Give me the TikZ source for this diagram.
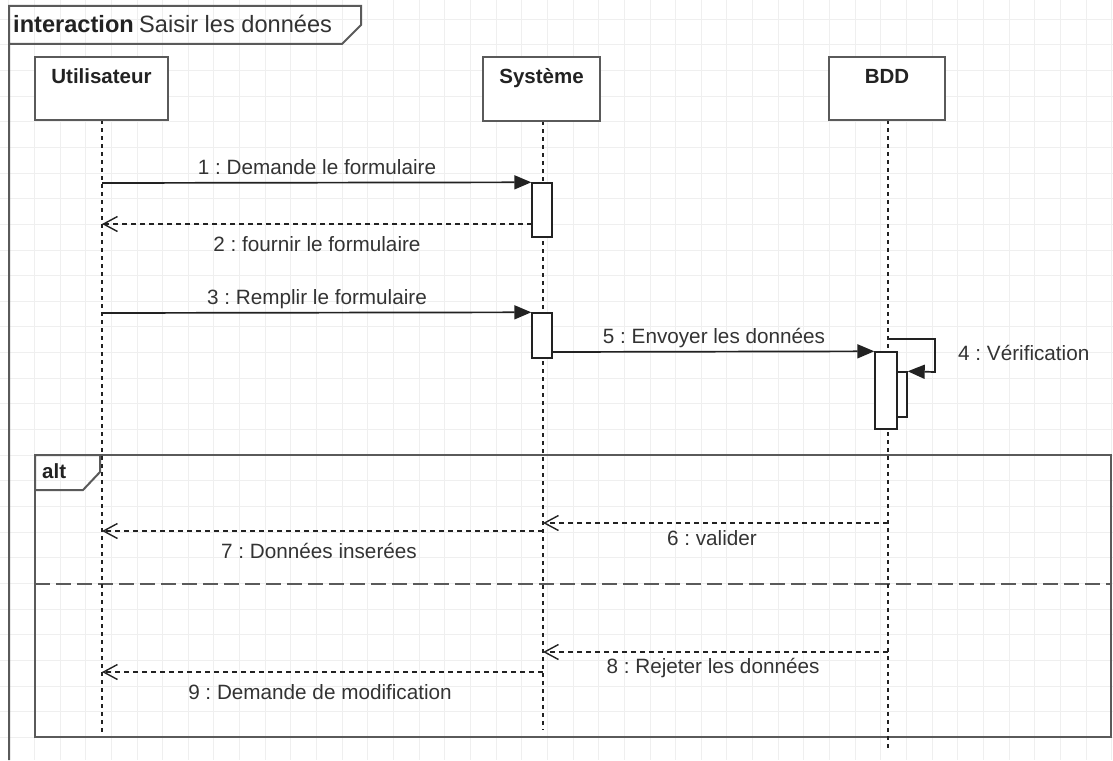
\documentclass[tikz,border=0pt]{standalone}
\usepackage{fontspec}
\setmainfont{Liberation Sans}
\usetikzlibrary{arrows.meta}
\definecolor{gridc}{HTML}{EFEFEF}
\definecolor{linec}{HTML}{222222}
\definecolor{framec}{HTML}{5A5A5A}
\definecolor{textc}{HTML}{333333}
\frenchspacing
\begin{document}
\begin{tikzpicture}[x=1pt,y=-1pt,
  lbl/.style={font=\fontsize{20.7}{24}\selectfont, text=textc, inner sep=0pt, anchor=base},
  head/.style={font=\bfseries\fontsize{20.5}{24}\selectfont, text=linec, inner sep=0pt, anchor=base},
  actor/.style={draw=framec, line width=1.6pt, fill=white, inner sep=0pt},
  act/.style={draw=linec, line width=1.4pt, fill=white, inner sep=0pt, minimum width=20pt},
  life/.style={draw=linec, line width=1.6pt, dash pattern=on 4pt off 4pt},
  msg/.style={draw=linec, line width=1.7pt, -{Triangle[length=17pt,width=14pt]}},
  ret/.style={draw=linec, line width=1.4pt, dash pattern=on 5pt off 4pt, -{Straight Barb[length=14pt,width=15pt,line width=1.4pt]}},
  frame/.style={draw=framec, line width=2pt},
  sep/.style={draw=framec, line width=2pt, dash pattern=on 15pt off 6pt}]
\useasboundingbox (0,0) rectangle (1113,760);
% grid
\foreach \i in {0,...,43} \draw[gridc, line width=0.8pt] ({8.65+\i*25.65},0) -- ++(0,760);
\foreach \j in {0,...,28} \draw[gridc, line width=0.8pt] (0,{19.05+\j*25.65}) -- ++(1113,0);
% interaction frame
\draw[frame] (9,760) -- (9,6) -- (361,6) -- (361,25) -- (342,44) -- (9,44);
\node[font=\bfseries\fontsize{23.6}{28}\selectfont, text=linec, inner sep=0pt, anchor=base west] (tkw) at (13,33) {interaction};
\node[font=\fontsize{23.6}{28}\selectfont, text=textc, inner sep=0pt, anchor=base west] (ttl) at (139,33) {Saisir les données};
% alt frame
\draw[frame] (35,455) rectangle (1111,737);
\draw[frame] (35,490) -- (35,455) -- (100,455) -- (100,472) -- (83,490) -- cycle;
\node[head, anchor=base west] (alt) at (42,478) {alt};
\draw[sep] (35,584) -- (1111,584);
% lifelines
\coordinate (uend) at (102,732);
\coordinate (send) at (543,730);
\coordinate (bend) at (888,748);
\draw[life] (102,120) -- (uend);
\draw[life] (543,121) -- (send);
\draw[life] (888,120) -- (bend);
% actors
\node[actor, minimum width=133pt, minimum height=63pt] (user) at (101.5,88.5) {};
\node[head] (userl) at (101.5,83) {Utilisateur};
\node[actor, minimum width=117pt, minimum height=64pt] (sys) at (541.5,89) {};
\node[head] (sysl) at (541.5,83) {Système};
\node[actor, minimum width=116pt, minimum height=63pt] (bdd) at (887,88.5) {};
\node[head] (bddl) at (887,84) {BDD};
% activations
\node[act, minimum height=54pt] (a1) at (542,210) {};
\node[act, minimum height=45pt] (a2) at (542,335.5) {};
\node[act, minimum width=22pt, minimum height=77pt] (a3) at (886,390.5) {};
\node[act, minimum width=10pt, minimum height=45pt] (a4) at (902,394.5) {};
% message endpoints
\coordinate (u1) at (102,183);
\coordinate (u2) at (102,224);
\coordinate (s2) at (532,224);
\coordinate (u3) at (102,313);
\coordinate (b4) at (888,339);
\coordinate (u7) at (102,531);
\coordinate (s7) at (543,531);
\coordinate (s6) at (543,523);
\coordinate (b6) at (888,523);
\coordinate (u9) at (102,672);
\coordinate (s9) at (543,672);
\coordinate (s8) at (543,652);
\coordinate (b8) at (888,652);
% messages
\draw[msg] (u1) -- (a1.north west);
\node[lbl] (m1) at (317,174) {1 : Demande le formulaire};
\draw[ret] (s2) -- (u2);
\node[lbl] (m2) at (317,251) {2 : fournir le formulaire};
\draw[msg] (u3) -- (a2.north west);
\node[lbl] (m3) at (317,304) {3 : Remplir le formulaire};
\draw[msg] (a2.east |- 0,352) -- (a3.north west);
\node[lbl] (m5) at (714,343) {5 : Envoyer les données};
\draw[msg] (b4) -- (935,339) -- (935,372) -- (a4.north east);
\node[lbl, anchor=base west] (m4) at (958,360) {4 : Vérification};
\draw[ret] (b6) -- (s6);
\node[lbl] (m6) at (712,545) {6 : valider};
\draw[ret] (s7) -- (u7);
\node[lbl] (m7) at (319,558) {7 : Données inserées};
\draw[ret] (b8) -- (s8);
\node[lbl] (m8) at (713,673) {8 : Rejeter les données};
\draw[ret] (s9) -- (u9);
\node[lbl] (m9) at (320,699) {9 : Demande de modification};
\end{tikzpicture}
\end{document}
